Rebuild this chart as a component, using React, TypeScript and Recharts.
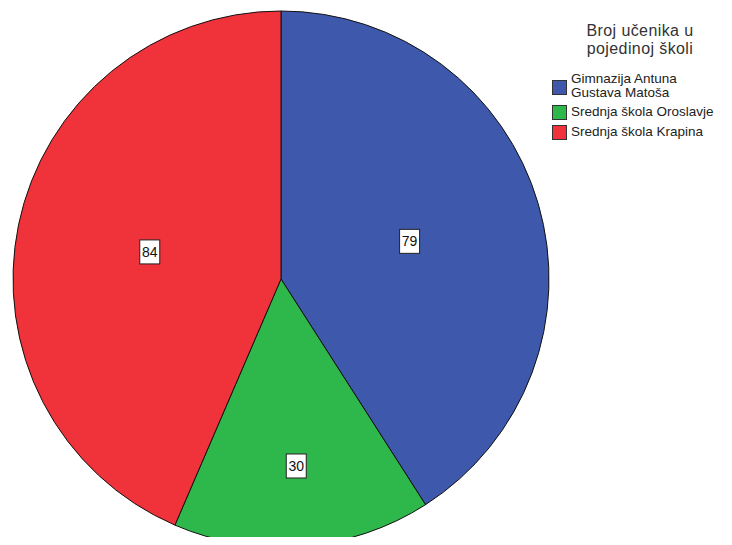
import { Cell, Legend, Pie, PieChart } from "recharts";

const schools = [
  "Gimnazija Antuna Gustava Matoša",
  "Srednja škola Oroslavje",
  "Srednja škola Krapina",
];
const legendLines = [
  ["Gimnazija Antuna", "Gustava Matoša"],
  ["Srednja škola Oroslavje"],
  ["Srednja škola Krapina"],
];
const students = [79, 30, 84];
const colors = ["#3e58ac", "#2eb84b", "#f0323a"];
const legendTitle = ["Broj učenika u", "pojedinoj školi"];

const data = schools.map((name, i) => ({ name, value: students[i] }));

const RAD = Math.PI / 180;
const FONT = "Liberation Sans, Arial, sans-serif";

function renderLabel(props: any) {
  const { cx, cy, midAngle, outerRadius, index, value } = props;
  // the small slice's label sits further out in the original
  const r = outerRadius * (index === 1 ? 0.7 : 0.5);
  const x = cx + r * Math.cos(-midAngle * RAD);
  const y = cy + r * Math.sin(-midAngle * RAD);
  return (
    <g>
      <rect
        x={x - 10}
        y={y - 12}
        width={20}
        height={24}
        fill="#ffffff"
        stroke="#222"
        strokeWidth={1}
      />
      <text
        x={x}
        y={y + 1}
        textAnchor="middle"
        dominantBaseline="middle"
        fontSize={14}
        fontFamily={FONT}
        fill="#111"
      >
        {value}
      </text>
    </g>
  );
}

function LegendBox() {
  return (
    <div style={{ fontFamily: FONT, color: "#222" }}>
      <div
        style={{
          fontSize: 16,
          lineHeight: "18px",
          letterSpacing: 0.4,
          textAlign: "center",
          width: 176,
          marginBottom: 14,
          color: "#333",
        }}
      >
        {legendTitle.map((t) => (
          <div key={t}>{t}</div>
        ))}
      </div>
      {legendLines.map((lines, i) => (
        <div key={i} style={{ display: "flex", alignItems: "center", marginBottom: 3 }}>
          <div
            style={{
              width: 13,
              height: 13,
              background: colors[i],
              border: "1px solid #333",
              marginTop: 2,
              marginRight: 4,
              flexShrink: 0,
            }}
          />
          <div style={{ fontSize: 13.5, lineHeight: "14px" }}>
            {lines.map((l) => (
              <div key={l}>{l}</div>
            ))}
          </div>
        </div>
      ))}
    </div>
  );
}

export default function App() {
  return (
    <div style={{ margin: -8, width: 732, height: 545, background: "#fff" }}>
      <PieChart width={732} height={545} margin={{ top: 0, right: 0, bottom: 0, left: 0 }}>
        <Pie
          data={data}
          dataKey="value"
          nameKey="name"
          cx={281}
          cy={279}
          outerRadius={268}
          startAngle={90}
          endAngle={-270}
          stroke="#111"
          strokeWidth={1}
          label={renderLabel}
          labelLine={false}
          isAnimationActive={false}
        >
          {data.map((d, i) => (
            <Cell key={d.name} fill={colors[i]} />
          ))}
        </Pie>
        <Legend
          content={() => <LegendBox />}
          wrapperStyle={{ position: "absolute", left: 552, top: 22, width: 180 }}
        />
      </PieChart>
    </div>
  );
}
